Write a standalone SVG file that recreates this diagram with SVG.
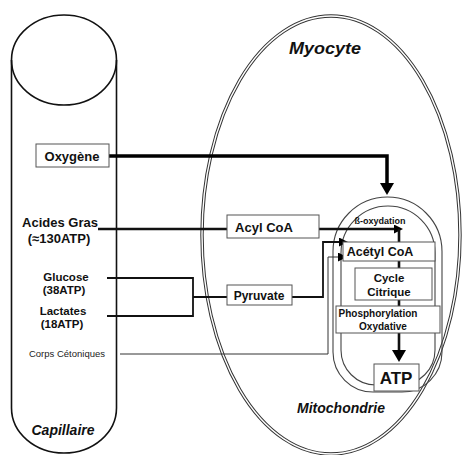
<svg xmlns="http://www.w3.org/2000/svg" width="466" height="455" viewBox="0 0 466 455">
<style>
  .t { font-family: "Liberation Sans", Arial, sans-serif; font-weight: bold; fill: #111; text-anchor: middle; }
  .ti { font-family: "Liberation Sans", Arial, sans-serif; font-weight: bold; font-style: italic; fill: #111; text-anchor: middle; }
  .tr { font-family: "Liberation Sans", Arial, sans-serif; fill: #222; text-anchor: middle; }
  .box { fill: #fff; stroke: #555; stroke-width: 1; }
  .outline { fill: none; stroke: #111; stroke-width: 1.6; }
  .dbl-out { fill: none; stroke: #333; stroke-width: 3.4; }
  .dbl-in { fill: none; stroke: #fff; stroke-width: 1.4; }
  .mito { fill: none; stroke: #444; stroke-width: 1.1; }
  .thick { fill: none; stroke: #000; stroke-width: 3.5; }
  .med { fill: none; stroke: #111; stroke-width: 2.6; }
  .thin2 { fill: none; stroke: #111; stroke-width: 1.8; }
  .thin { fill: none; stroke: #333; stroke-width: 1; }
</style>
<defs>
  <marker id="headBig" markerUnits="userSpaceOnUse" markerWidth="13" markerHeight="14" refX="0" refY="7" orient="auto">
    <path d="M0,0 L12,7 L0,14 z" fill="#000"/>
  </marker>
  <marker id="headSmall" markerUnits="userSpaceOnUse" markerWidth="10" markerHeight="9" refX="0" refY="4.5" orient="auto">
    <path d="M0,0 L9,4.5 L0,9 z" fill="#000"/>
  </marker>
</defs>

<g id="capillaire">
  <path class="outline" d="M11.5,60 L11.5,408 A52.5,45 0 0 0 116.5,408 L116.5,60"/>
  <ellipse class="outline" cx="64" cy="60" rx="52.5" ry="45" fill="#fff"/>
  <text class="ti" x="63" y="435" font-size="14">Capillaire</text>
</g>

<g id="myocyte">
  <ellipse class="dbl-out" cx="331" cy="235" rx="129" ry="219"/>
  <ellipse class="dbl-in" cx="331" cy="235" rx="129" ry="219"/>
  <text class="ti" x="325" y="54" font-size="16" textLength="72" lengthAdjust="spacingAndGlyphs">Myocyte</text>
</g>

<g id="mitochondrie">
  <path class="mito" d="M333,251.5 A54.5,54.5 0 0 1 442,251.5 L442,352 A40,40 0 0 1 402,392 L373,392 A40,40 0 0 1 333,352 Z"/>
  <path class="mito" d="M341,253 A47,47 0 0 1 435,253 L435,350 A35,35 0 0 1 400,385 L376,385 A35,35 0 0 1 341,350 Z"/>
  <text class="ti" x="341" y="413" font-size="14">Mitochondrie</text>
  <text class="t" x="380" y="224" font-size="9">ß-oxydation</text>
</g>

<g id="connectors">
  <path class="thick" d="M100,156 L387,156 L387,183" marker-end="url(#headBig)"/>
  <path class="med" d="M98,229 L394,229" marker-end="url(#headSmall)"/>
  <path class="med" d="M399,229 L399,350" marker-end="url(#headBig)"/>
  <path class="thin2" d="M107,278 L193,278 L193,316 L107,316 M193,297 L227,297"/>
  <path class="thin2" d="M292,297 L323,297 L323,242 L339,242" marker-end="url(#headSmall)"/>
  <path class="thin" d="M120,354 L328,354 L328,257 L338,257" marker-end="url(#headSmall)"/>
</g>

<g id="oxygene">
  <rect class="box" x="36" y="144" width="73" height="23"/>
  <text class="t" x="72" y="161" font-size="13">Oxygène</text>
</g>

<g id="acides-gras">
  <text class="t" x="60" y="227" font-size="13">Acides Gras</text>
  <text class="t" x="59" y="243" font-size="13">(≈130ATP)</text>
</g>

<g id="glucose">
  <text class="t" x="66" y="281" font-size="11.5">Glucose</text>
  <text class="t" x="64" y="294" font-size="11.5">(38ATP)</text>
</g>

<g id="lactates">
  <text class="t" x="63" y="315" font-size="11.5">Lactates</text>
  <text class="t" x="62" y="328" font-size="11.5">(18ATP)</text>
</g>

<g id="corps-cetoniques">
  <text class="tr" x="67" y="357" font-size="9.5">Corps Cétoniques</text>
</g>

<g id="acyl-coa">
  <rect class="box" x="227" y="215" width="92" height="23"/>
  <text class="t" x="264" y="232" font-size="13">Acyl CoA</text>
</g>

<g id="pyruvate">
  <rect class="box" x="227" y="285" width="65" height="20"/>
  <text class="t" x="259" y="300" font-size="12">Pyruvate</text>
</g>

<g id="acetyl-coa">
  <rect class="box" x="343" y="242" width="92" height="19"/>
  <text class="t" x="380" y="256" font-size="12.5">Acétyl CoA</text>
</g>

<g id="cycle-citrique">
  <rect class="box" x="355" y="268" width="77" height="32"/>
  <text class="t" x="389" y="282" font-size="11.5">Cycle</text>
  <text class="t" x="389" y="296" font-size="11.5">Citrique</text>
</g>

<g id="phosphorylation">
  <rect class="box" x="336" y="306" width="104" height="27"/>
  <text class="t" x="378" y="317" font-size="10">Phosphorylation</text>
  <text class="t" x="383" y="330" font-size="10">Oxydative</text>
</g>

<g id="atp">
  <rect class="box" x="374" y="364" width="45" height="27" stroke="#333"/>
  <text class="t" x="396" y="384" font-size="17">ATP</text>
</g>
</svg>
